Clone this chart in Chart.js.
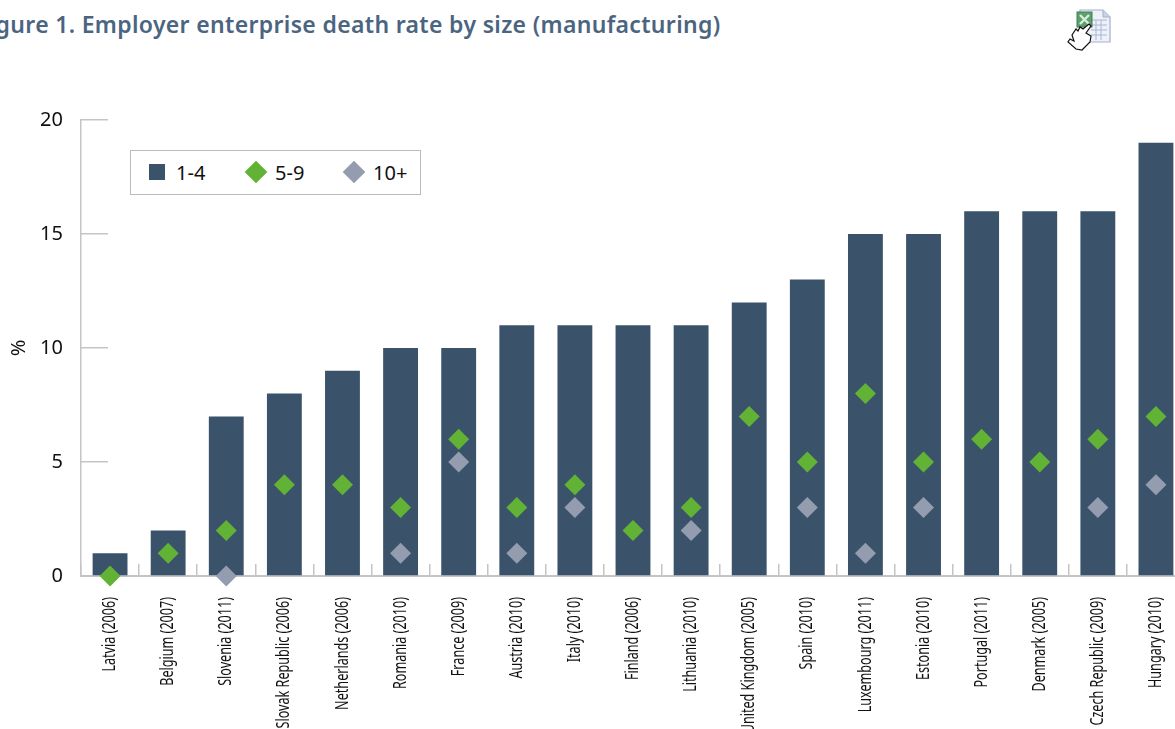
<!DOCTYPE html>
<html>
<head>
<meta charset="utf-8">
<script src="https://cdn.jsdelivr.net/npm/chart.js@4"></script>
<style>
  html, body { margin: 0; padding: 0; background: #fff; overflow: hidden; }
  #page { position: relative; width: 1175px; height: 729px; overflow: hidden; }
  #title {
    position: absolute; left: -24px; top: 8px; margin: 0; white-space: nowrap;
    font: 600 23px "Noto Sans", sans-serif; letter-spacing: 0.33px; color: #4b6580;
  }
  #icon { position: absolute; left: 1066px; top: 9px; }
  #chart { position: absolute; left: 0; top: 0; }
  #legend {
    position: absolute; left: 130px; top: 150px; width: 289px; height: 43px;
    border: 1px solid #bbb; background: #fff;
    font: 20px "Noto Sans", sans-serif; color: #111;
  }
  #legend .mark { position: absolute; }
  #legend .name { position: absolute; top: 9px; line-height: 26px; }
</style>
</head>
<body>
<div id="page">
  <h1 id="title">Figure 1. Employer enterprise death rate by size (manufacturing)</h1>
  <canvas id="chart" width="1190" height="729"></canvas>
  <div id="legend"></div>
  <svg id="icon" width="46" height="42" viewBox="0 0 46 42">
    <path d="M14 1H37L44 8V33H14Z" fill="#eef1f8" stroke="#a3b0d0" stroke-width="1.2"/>
    <path d="M37 1V8H44" fill="#c9d2e6" stroke="#a3b0d0"/>
    <path d="M25 11H41M25 16H41M25 21H41M25 26H41M30 11V31M35 11V31" stroke="#a9b6d6" stroke-width="1"/>
    <rect x="11" y="3" width="15" height="15" fill="#5f9e6e" stroke="#3f7f52"/>
    <path d="M14 6L23 15M23 6L14 15" stroke="#d7efd9" stroke-width="2.4"/>
    <path d="M23 15L25 17L20 24L25 27L24 33L16 41L10 40L2 33L4 30L8 32L6 26L10 20L12 22L14 18L17 20Z" fill="#fff" stroke="#111" stroke-width="1.2"/>
  </svg>
</div>
<script>
const categories = [
  "Latvia (2006)", "Belgium (2007)", "Slovenia (2011)", "Slovak Republic (2006)",
  "Netherlands (2006)", "Romania (2010)", "France (2009)", "Austria (2010)",
  "Italy (2010)", "Finland (2006)", "Lithuania (2010)", "United Kingdom (2005)",
  "Spain (2010)", "Luxembourg (2011)", "Estonia (2010)", "Portugal (2011)",
  "Denmark (2005)", "Czech Republic (2009)", "Hungary (2010)"
];
const size1to4 = [1, 2, 7, 8, 9, 10, 10, 11, 11, 11, 11, 12, 13, 15, 15, 16, 16, 16, 19];
const size5to9 = [0, 1, 2, 4, 4, 3, 6, 3, 4, 2, 3, 7, 5, 8, 5, 6, 5, 6, 7];
const size10plus = [null, null, 0, null, null, 1, 5, 1, 3, null, 2, null, 3, 1, 3, null, null, 3, 4];
const yTicks = [0, 5, 10, 15, 20];

const NAVY = "#3b526b", GREEN = "#62b236", GREY = "#949daf", AXIS = "#c4c4c4";
const tickFont = { family: "Noto Sans", size: 20 };

function diamonds(label, data, color) {
  return {
    type: "line", label: label, data: data, showLine: false, order: 1, clip: false,
    pointStyle: "rectRot", pointRadius: 10.5, pointHoverRadius: 10.5, borderWidth: 0,
    pointBorderWidth: 0, backgroundColor: color, pointBackgroundColor: color
  };
}

// no narrow font is installed, so the category labels are squeezed along their length
const narrowLabels = {
  id: "narrowLabels",
  afterDraw(chart) {
    const ctx = chart.ctx, x = chart.scales.x;
    ctx.save();
    ctx.font = '18px "Noto Sans"';
    ctx.fillStyle = "#111";
    ctx.textAlign = "right";
    ctx.textBaseline = "middle";
    categories.forEach((name, i) => {
      ctx.save();
      ctx.translate(x.getPixelForTick(i), 597);
      ctx.rotate(-Math.PI / 2);
      ctx.scale(0.7, 1);
      ctx.fillText(name, 0, 0);
      ctx.restore();
    });
    ctx.restore();
  }
};

const chart = new Chart(document.getElementById("chart"), {
  type: "bar",
  data: {
    labels: categories,
    datasets: [
      { label: "1-4", data: size1to4, backgroundColor: NAVY, order: 2,
        barPercentage: 0.6, categoryPercentage: 1 },
      diamonds("5-9", size5to9, GREEN),
      diamonds("10+", size10plus, GREY)
    ]
  },
  plugins: [narrowLabels],
  options: {
    responsive: false,
    animation: false,
    layout: { autoPadding: false, padding: { left: 0, right: 5, top: 120, bottom: 0 } },
    plugins: { legend: { display: false }, title: { display: false } },
    scales: {
      x: {
        grid: { drawOnChartArea: false, tickLength: -12, color: AXIS, lineWidth: 1.5, offset: true },
        border: { color: AXIS, width: 2 },
        ticks: { display: false, autoSkip: false },
        afterFit: s => { s.height = 153; s.paddingLeft = 0; s.paddingRight = 0; }
      },
      y: {
        min: 0, max: 20,
        grid: { drawOnChartArea: false, tickLength: -27, color: AXIS, lineWidth: 1.5 },
        border: { color: AXIS, width: 1.5 },
        afterBuildTicks: s => { s.ticks = yTicks.map(v => ({ value: v })); },
        ticks: { padding: 45, color: "#111", font: tickFont },
        title: { display: true, text: "%", color: "#111", font: { family: "Noto Sans", size: 20 }, padding: { top: 7, bottom: 0 } },
        afterFit: s => { s.width = 81; }
      }
    }
  }
});

// legend box over the plot, same names and colours as the datasets
const legend = document.getElementById("legend");
const legendLefts = [[18, 45], [114, 144], [212, 242]];
chart.data.datasets.forEach((ds, i) => {
  const mark = document.createElement("div");
  mark.className = "mark";
  mark.style.background = ds.backgroundColor;
  if (i === 0) {
    mark.style.cssText += "left:" + legendLefts[i][0] + "px;top:13px;width:16px;height:16px;";
  } else {
    mark.style.cssText += "left:" + (legendLefts[i][0] + 3) + "px;top:13px;width:16px;height:16px;transform:rotate(45deg);";
  }
  const name = document.createElement("div");
  name.className = "name";
  name.style.left = legendLefts[i][1] + "px";
  name.textContent = ds.label;
  legend.appendChild(mark);
  legend.appendChild(name);
});
</script>
</body>
</html>
